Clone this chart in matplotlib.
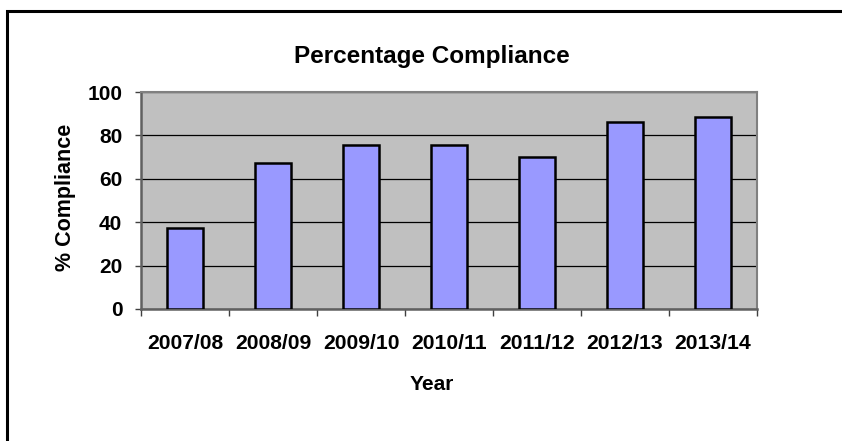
import numpy as np
import matplotlib
matplotlib.use("Agg")
import matplotlib.pyplot as plt
from matplotlib.patches import Rectangle

# data
years = ["2007/08", "2008/09", "2009/10", "2010/11", "2011/12", "2012/13", "2013/14"]
compliance = [37.2, 67.3, 75.4, 75.7, 70.2, 86.3, 88.5]
yticks = [0, 20, 40, 60, 80, 100]

plt.rcParams['font.family'] = ['Liberation Sans', 'DejaVu Sans']
plt.rcParams['font.weight'] = 'bold'

W, H = 842, 441
fig = plt.figure(figsize=(W / 100, H / 100), dpi=100)
fig.patch.set_facecolor('white')

# plot area in pixels: x 141-757, y 92-309
ax = fig.add_axes([141 / W, 1 - 309 / H, (757 - 141) / W, (309 - 92) / H])
ax.set_facecolor('#C0C0C0')

x = np.arange(len(years))
ax.bar(x, compliance, width=0.42, color='#9999FF', edgecolor='black', linewidth=1.8, zorder=3)

ax.set_xlim(-0.5, len(years) - 0.5)
ax.set_ylim(0, 100)

# gridlines
ax.set_yticks(yticks)
ax.yaxis.grid(True, color='black', linewidth=0.9, zorder=1)
ax.set_axisbelow(True)

ax.set_yticklabels([str(v) for v in yticks], fontsize=15, fontweight='bold')
ax.tick_params(axis='y', direction='out', length=4.5, width=1, color='#404040', pad=9)

# category labels centred, tick marks at boundaries
ax.set_xticks(x)
ax.set_xticklabels(years, fontsize=15.2, fontweight='bold')
ax.set_xticks(np.arange(-0.5, len(years), 1.0), minor=True)
ax.tick_params(axis='x', which='major', length=0, pad=18)
ax.tick_params(axis='x', which='minor', direction='out', length=5, width=1, color='#404040')

for side in ['top', 'right']:
    ax.spines[side].set_color('#808080')
    ax.spines[side].set_linewidth(1.5)
for side in ['left', 'bottom']:
    ax.spines[side].set_color('#606060')
    ax.spines[side].set_linewidth(1.8)

fig.text(432 / W, 1 - 56 / H, "Percentage Compliance", ha='center', va='center',
         fontsize=17.5, fontweight='bold')
fig.text(432 / W, 1 - 384 / H, "Year", ha='center', va='center',
         fontsize=15, fontweight='bold')
fig.text(65 / W, 1 - 197 / H, "% Compliance", ha='center', va='center', rotation=90,
         fontsize=15.5, fontweight='bold')

# outer chart border, cut off at right and bottom
fig.patches.append(Rectangle((7 / W, -0.05), 1.1, 1 - 11 / H + 0.05, transform=fig.transFigure,
                             fill=False, edgecolor='black', linewidth=2.2))

fig.savefig('out.png', dpi=100)
